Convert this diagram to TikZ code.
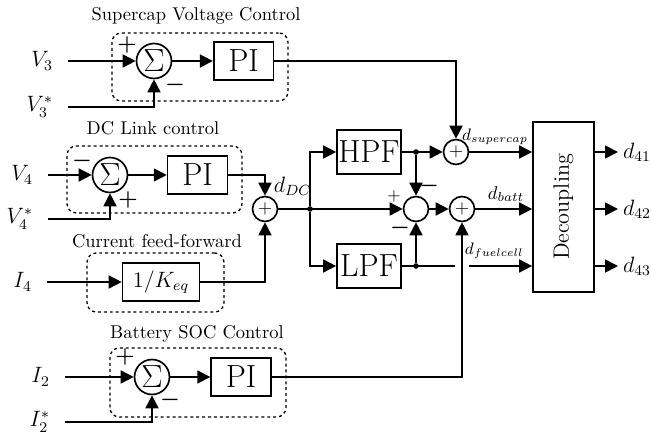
\documentclass[tikz,border=0pt]{standalone}
\usepackage{graphicx}
\usepackage{tikz}
\usetikzlibrary{shapes,arrows.meta}
\usetikzlibrary{positioning}
\tikzstyle{block} = [draw, rectangle, line width=0.9pt, minimum width=32.4pt,
minimum height=20.5pt, inner sep=0pt, font=\LARGE]
\tikzstyle{line} = [draw, line width=0.9pt, -{Triangle[length=7pt,width=7pt]}]
\tikzstyle{wire} = [draw, line width=0.9pt]
\tikzstyle{group} = [draw, line width=0.7pt, dash pattern=on 1.6pt off 1.6pt,
rounded corners=5pt]

\begin{document}
\begin{tikzpicture}[auto, x=0.019cm, y=-0.019cm,
	sum/.style={draw, circle, line width=0.9pt, minimum size=18.9pt,
		inner sep=0pt, font=\LARGE},
	add/.style={draw, circle, line width=0.9pt, minimum size=13.5pt, inner sep=0pt},
	sig/.style={anchor=east, inner xsep=8pt, font=\large},
	sgn/.style={inner sep=0pt, font=\large\boldmath},
	dot/.style={circle, fill, inner sep=0pt, minimum size=3pt}]
	\useasboundingbox (0,0) rectangle (651,435);
	%% Supercap voltage control
	\node[group, minimum width=95.1pt, minimum height=36.8pt] (G3) at (200,67) {};
	\node (T3) at (196,16) {Supercap Voltage Control};
	\node[sum] (S3) at (154,61) {$\Sigma$};
	\node[block, right=0.77cm of S3] (P3) {PI};
	\node[sig] (V3) at (68,61) {$V_3$};
	\node[sig] (V3s) at (68,107) {$V_3^*$};
	\node[sgn] (S3p) at (127,45) {$+$};
	\node[sgn] (S3m) at (175,85) {$-$};
	%% DC link control
	\node[group, minimum width=94.6pt, minimum height=36.2pt] (G4) at (154.5,179.5) {};
	\node (T4) at (153,128) {DC Link control};
	\node[sum] (S4) at (110,175) {$\Sigma$};
	\node[block, right=0.73cm of S4] (P4) {PI};
	\node[sig] (V4) at (48,175) {$V_4$};
	\node[sig] (V4s) at (48,219) {$V_4^*$};
	\node[sgn] (S4m) at (82,161) {$-$};
	\node[sgn] (S4p) at (128,200) {$+$};
	%% Current feed-forward
	\node[group, minimum width=74pt, minimum height=31.9pt] (G5) at (155.5,282.5) {};
	\node (T5) at (157,241) {Current feed-forward};
	\node[block, minimum width=41.6pt, font=\large] (K) at (161,282) {$1/K_{eq}$};
	\node[sig] (I4) at (47,282) {$I_4$};
	%% Battery SOC control
	\node[group, minimum width=95.1pt, minimum height=37.3pt] (G2) at (198,382.5) {};
	\node (T2) at (197,334) {Battery SOC Control};
	\node[sum] (S2) at (152,377) {$\Sigma$};
	\node[block, right=0.76cm of S2] (P2) {PI};
	\node[sig] (I2) at (65,377) {$I_2$};
	\node[sig] (I2s) at (65,422) {$I_2^*$};
	\node[sgn] (S2p) at (125,357) {$+$};
	\node[sgn] (S2m) at (170,400) {$-$};
	%% Filters and decoupling
	\node[add] (A) at (265,209) {$+$};
	\node[block, minimum width=34.6pt, minimum height=23.8pt] (HPF) at (369,152) {HPF};
	\node[block, minimum width=34.6pt, minimum height=23.8pt] (LPF) at (369,266) {LPF};
	\node[add] (M) at (416,209) {};
	\node[add] (C) at (456,152) {$+$};
	\node[add] (B) at (462,209) {$+$};
	\node[sgn, font=\small] (Mp) at (394,196) {$+$};
	\node[sgn] (Mm1) at (429,186) {$-$};
	\node[sgn] (Mm2) at (400,228) {$-$};
	\node[block, minimum width=33pt, minimum height=91.9pt, font=\large] (D)
		at (563.5,207) {\rotatebox{90}{Decoupling}};
	\node[anchor=west, inner sep=2.5pt, font=\large] (d41) at (618,152) {$d_{41}$};
	\node[anchor=west, inner sep=2.5pt, font=\large] (d42) at (618,209) {$d_{42}$};
	\node[anchor=west, inner sep=2.5pt, font=\large] (d43) at (618,266) {$d_{43}$};
	\coordinate (gapL) at (455,266);
	\coordinate (gapR) at (469,266);
	%% Flows
	\path [line] (V3) -- (S3);
	\path [line] (V3s) -| (S3);
	\path [line] (S3) -- (P3);
	\path [line] (P3) -| (C);
	\path [line] (V4) -- (S4);
	\path [line] (V4s) -| (S4);
	\path [line] (S4) -- (P4);
	\path [line] (P4) -| node [pos=0.78, right=1pt, font=\large] {$d_{DC}$} (A);
	\path [line] (I4) -- (K);
	\path [line] (K) -| (A);
	\path [line] (I2) -- (S2);
	\path [line] (I2s) -| (S2);
	\path [line] (S2) -- (P2);
	\path [line] (P2) -| (B);
	\node[dot] (J1) at (310,209) {};
	\node[dot] (J2) at (416,152) {};
	\node[dot] (J3) at (416,266) {};
	\path [line] (A) -- (M);
	\path [line] (J1) |- (HPF);
	\path [line] (J1) |- (LPF);
	\path [line] (HPF) -- (C);
	\path [line] (J2) -- (M);
	\path [line] (J3) -- (M);
	\path [wire] (LPF) -- (gapL);
	\path [line] (M) -- (B);
	\path [line] (C) -- node [above, pos=0.41, font=\small] {$d_{supercap}$} (D.west |- C);
	\path [line] (B) -- node [above, pos=0.54] {$d_{batt}$} (D.west |- B);
	\path [line] (gapR) -- node [above, pos=0.4, font=\small] {$d_{fuelcell}$} (D.west |- gapR);
	\path [line] (D.east |- d41) -- (d41);
	\path [line] (D.east |- d42) -- (d42);
	\path [line] (D.east |- d43) -- (d43);
\end{tikzpicture}
\end{document}
